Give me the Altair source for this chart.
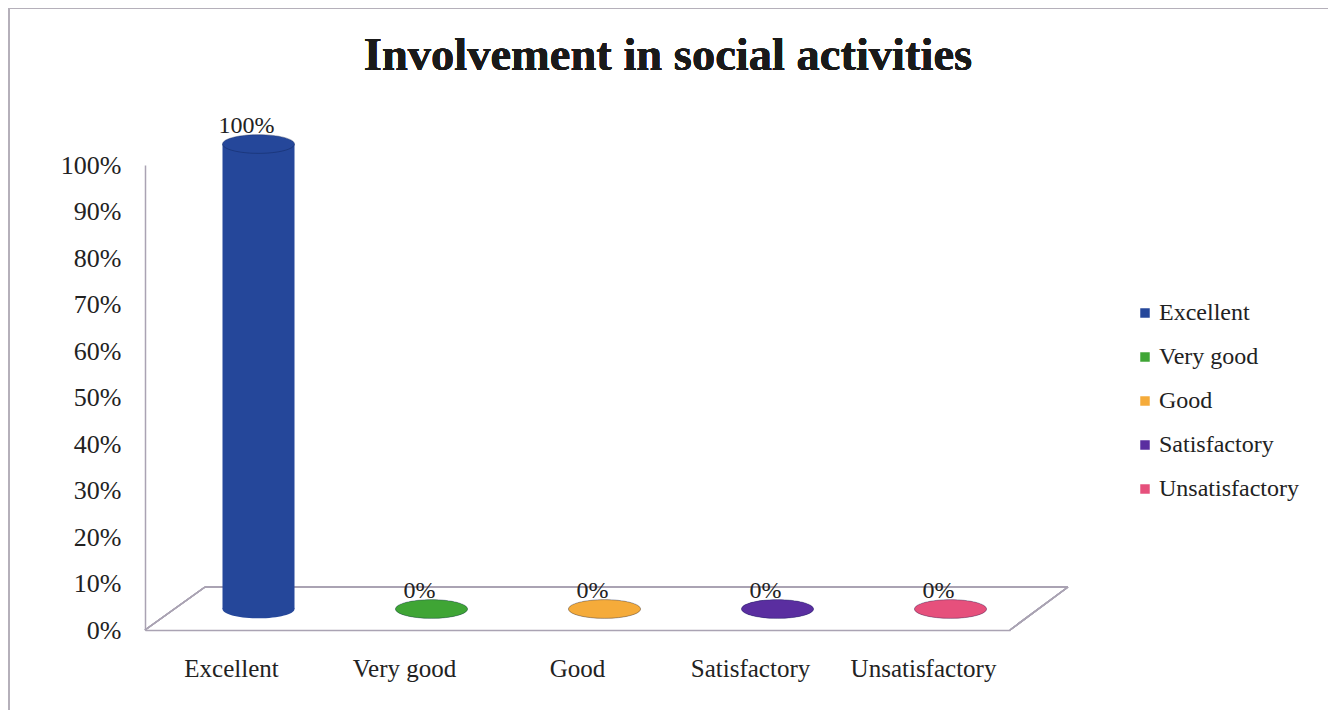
import altair as alt
import pandas as pd

categories = ["Excellent", "Very good", "Good", "Satisfactory", "Unsatisfactory"]
values = [1.00, 0.0, 0.0, 0.0, 0.0]
labels = ["100%", "0%", "0%", "0%", "0%"]
colors = ["#25479a", "#3fa535", "#f5ab3a", "#5a2ea0", "#e6507c"]
title_text = "Involvement in social activities"

df = pd.DataFrame({"category": categories, "value": values, "label": labels})

W, H = 865, 465
FONT = "Liberation Serif"
GREY = "#aaa3b3"
DX, DY = 27, -21
ELLIPSE = "M -1 0 A 1 0.26 0 1 1 1 0 A 1 0.26 0 1 1 -1 0 Z"

x_enc = alt.X("category:N", sort=categories, title=None,
              scale=alt.Scale(paddingInner=0, paddingOuter=0),
              axis=alt.Axis(labelAngle=0, ticks=False, labelPadding=26,
                            labelFontSize=25, labelFont=FONT, labelColor="#222",
                            domainColor=GREY, domainWidth=1.5))
y_enc = alt.Y("value:Q", title=None,
              scale=alt.Scale(domain=[0, 1], nice=False),
              axis=alt.Axis(values=[i / 10 for i in range(11)], format=".0%",
                            grid=False, ticks=False, labelPadding=24,
                            labelFontSize=26, labelFont=FONT, labelColor="#222",
                            domainColor=GREY, domainWidth=1.5))
color_enc = alt.Color("category:N", sort=categories,
                      scale=alt.Scale(domain=categories, range=colors),
                      legend=alt.Legend(title=None, orient="none", legendX=988, legendY=136,
                                        symbolType="square", symbolSize=90, symbolStrokeWidth=0,
                                        labelFontSize=24, labelFont=FONT, labelColor="#222",
                                        labelOffset=2, rowPadding=20))

base = alt.Chart(df).encode(x=x_enc)

floor_back = alt.Chart(df).mark_rule(color=GREY, strokeWidth=1.5).encode(
    x=alt.value(60), x2=alt.value(W + 58), y=alt.value(H - 43))
floor_left = alt.Chart(df).mark_rule(color=GREY, strokeWidth=1.5).encode(
    x=alt.value(0), x2=alt.value(60), y=alt.value(H), y2=alt.value(H - 43))
floor_right = alt.Chart(df).mark_rule(color=GREY, strokeWidth=1.5).encode(
    x=alt.value(W), x2=alt.value(W + 58), y=alt.value(H), y2=alt.value(H - 43))
frame = alt.Chart(df).mark_rect(fill=None, stroke="#b5b0bb", strokeWidth=1.5, clip=False).encode(
    x=alt.value(-136), x2=alt.value(1184), y=alt.value(-157), y2=alt.value(560))
title = alt.Chart(df).mark_text(text=title_text, font=FONT, fontSize=46.5, fontWeight="bold",
                                color="#1a1a1a", align="center", baseline="alphabetic").encode(
    x=alt.value(523), y=alt.value(-95))

bottom = base.mark_point(shape=ELLIPSE, size=5184, filled=True, opacity=1,
                         strokeWidth=0, xOffset=DX, yOffset=DY).encode(
    y=alt.datum(0), color=color_enc)
bars = base.mark_bar(size=72, xOffset=DX, yOffset=DY).encode(
    y=y_enc, color=color_enc)
caps = base.mark_point(shape=ELLIPSE, size=5184, filled=True, opacity=1,
                       stroke="#0b1c4a", strokeOpacity=0.35, strokeWidth=1,
                       xOffset=DX, yOffset=DY).encode(
    y="value:Q", color=color_enc)
text = base.mark_text(dx=15, dy=-39, fontSize=24, font=FONT, color="#222",
                      baseline="middle").encode(y="value:Q", text="label:N")

chart = alt.layer(frame, title, floor_back, floor_left, floor_right, bottom, bars, caps, text).properties(
    width=W, height=H,
    background="white",
    autosize=alt.AutoSizeParams(type="none"),
    padding={"left": 137, "top": 157, "right": 318, "bottom": 80},
).configure_view(strokeWidth=0, stroke="transparent")

chart.save("out.html", embed_options={"renderer": "svg", "actions": False})
